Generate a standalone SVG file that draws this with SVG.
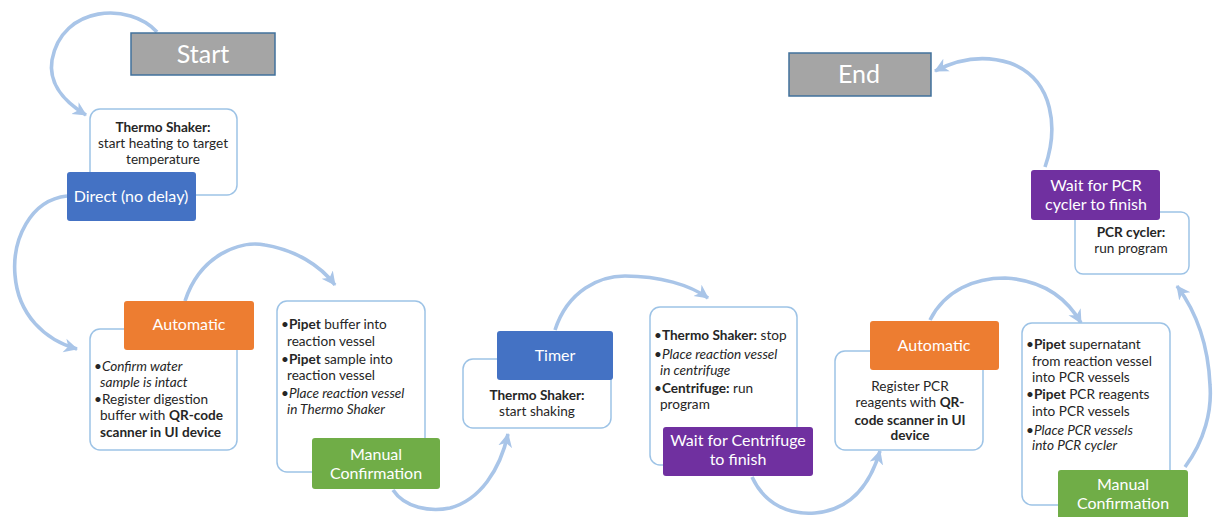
<svg xmlns="http://www.w3.org/2000/svg" width="1213" height="517" viewBox="0 0 1213 517">
<defs>
<marker id="ah" markerUnits="userSpaceOnUse" markerWidth="16" markerHeight="16" viewBox="0 0 16 16" refX="13" refY="8" orient="auto">
<path d="M0,1 L14,8 L0,15 L4,8 Z" fill="#a9c5e8"/>
</marker>
<style>
.con{fill:none;stroke:#a9c5e8;stroke-width:3.6;marker-end:url(#ah)}
.card{fill:#fff;stroke:#9dc3e6;stroke-width:1.5}
.t{font-family:Lato,"Liberation Sans",sans-serif;font-size:13.6px;fill:#262626}
.b{font-weight:bold}
.i{font-style:italic}
.lab{font-family:Lato,"Liberation Sans",sans-serif;font-size:16px;fill:#fff;text-anchor:middle}
.term{font-family:Lato,"Liberation Sans",sans-serif;font-size:25px;fill:#fff;text-anchor:middle}
.gray{fill:#a5a5a5;stroke:#41719c;stroke-width:1.5}
.blue{fill:#4472c4}
.orange{fill:#ed7d31}
.green{fill:#70ad47}
.purple{fill:#7030a0}
</style>
</defs>
<rect width="1213" height="517" fill="#fff"/>
<g id="connectors">
<path class="con" d="M157,32 C130,2 62,5 52,60 C48,85 65,102 86,115"/>
<path class="con" d="M67,196 C30,200 12,240 15,275 C18,315 45,340 77,349"/>
<path class="con" d="M185,301 C200,255 240,240 265,245 C295,250 320,265 335,285"/>
<path class="con" d="M393,490 C405,508 430,512 450,508 C480,500 500,470 508,434"/>
<path class="con" d="M555,330 C568,290 600,276 625,276 C660,276 690,285 708,298"/>
<path class="con" d="M752,477 C765,505 790,515 815,513 C850,510 870,485 880,451"/>
<path class="con" d="M930,320 C945,290 975,278 1005,278 C1040,280 1065,295 1081,323"/>
<path class="con" d="M1185,467 C1205,440 1212,410 1210,385 C1208,340 1195,310 1177,286"/>
<path class="con" d="M1045,167 C1058,130 1055,80 1010,63 C985,55 960,58 935,71"/>
</g>
<g id="start">
<rect class="gray" x="131" y="33" width="144" height="42"/>
<text class="term" x="203" y="63">Start</text>
</g>
<g id="step-heating">
<rect class="card" x="90" y="109" width="147" height="86" rx="10"/>
<text class="t" text-anchor="middle"><tspan class="b" x="163" y="132">Thermo Shaker:</tspan><tspan x="163" y="148">start heating to target</tspan><tspan x="163" y="164">temperature</tspan></text>
<rect class="blue" x="67" y="172" width="129" height="49" rx="3"/>
<text class="lab" x="131" y="202">Direct (no delay)</text>
</g>
<g id="step-register-buffer">
<rect class="card" x="90" y="329" width="147" height="121" rx="10"/>
<rect class="orange" x="124" y="301" width="130" height="49" rx="3"/>
<text class="lab" x="189" y="330">Automatic</text>
<text class="t"><tspan class="i" x="94" y="371">•Confirm water</tspan><tspan class="i" x="100" y="387">sample is intact</tspan><tspan x="94" y="404">•Register digestion</tspan><tspan x="100" y="420">buffer with <tspan class="b">QR-code</tspan></tspan><tspan class="b" x="100" y="437">scanner in UI device</tspan></text>
</g>
<g id="step-pipet">
<rect class="card" x="277" y="301" width="148" height="171" rx="10"/>
<text class="t"><tspan x="281" y="329">•<tspan class="b">Pipet</tspan> buffer into</tspan><tspan x="287" y="346">reaction vessel</tspan><tspan x="281" y="364">•<tspan class="b">Pipet</tspan> sample into</tspan><tspan x="287" y="380">reaction vessel</tspan><tspan class="i" x="281" y="398">•Place reaction vessel</tspan><tspan class="i" x="287" y="414">in Thermo Shaker</tspan></text>
<rect class="green" x="312" y="438" width="128" height="51" rx="3"/>
<text class="lab"><tspan x="376" y="460">Manual</tspan><tspan x="376" y="479">Confirmation</tspan></text>
</g>
<g id="step-shaking">
<rect class="card" x="463" y="359" width="148" height="69" rx="10"/>
<rect class="blue" x="497" y="331" width="116" height="49" rx="3"/>
<text class="lab" x="555" y="361">Timer</text>
<text class="t" text-anchor="middle"><tspan class="b" x="537" y="400">Thermo Shaker:</tspan><tspan x="537" y="416">start shaking</tspan></text>
</g>
<g id="step-centrifuge">
<rect class="card" x="650" y="307" width="147" height="158" rx="10"/>
<text class="t"><tspan x="654" y="340">•<tspan class="b">Thermo Shaker:</tspan> stop</tspan><tspan class="i" x="654" y="359">•Place reaction vessel</tspan><tspan class="i" x="660" y="375">in centrifuge</tspan><tspan x="654" y="393">•<tspan class="b">Centrifuge:</tspan> run</tspan><tspan x="660" y="409">program</tspan></text>
<rect class="purple" x="663" y="427" width="150" height="49" rx="3"/>
<text class="lab"><tspan x="738" y="446">Wait for Centrifuge</tspan><tspan x="738" y="465">to finish</tspan></text>
</g>
<g id="step-register-pcr">
<rect class="card" x="835" y="351" width="148" height="99" rx="10"/>
<rect class="orange" x="870" y="321" width="129" height="49" rx="3"/>
<text class="lab" x="934" y="351">Automatic</text>
<text class="t" text-anchor="middle"><tspan x="910" y="391">Register PCR</tspan><tspan x="910" y="407">reagents with <tspan class="b">QR-</tspan></tspan><tspan class="b" x="910" y="425">code scanner in UI</tspan><tspan class="b" x="910" y="440">device</tspan></text>
</g>
<g id="step-pcr-prep">
<rect class="card" x="1022" y="323" width="148" height="182" rx="10"/>
<text class="t"><tspan x="1026" y="349">•<tspan class="b">Pipet</tspan> supernatant</tspan><tspan x="1032" y="366">from reaction vessel</tspan><tspan x="1032" y="382">into PCR vessels</tspan><tspan x="1026" y="399">•<tspan class="b">Pipet</tspan> PCR reagents</tspan><tspan x="1032" y="416">into PCR vessels</tspan><tspan class="i" x="1026" y="435">•Place PCR vessels</tspan><tspan class="i" x="1032" y="450">into PCR cycler</tspan></text>
<rect class="green" x="1058" y="470" width="130" height="51" rx="3"/>
<text class="lab"><tspan x="1123" y="490">Manual</tspan><tspan x="1123" y="509">Confirmation</tspan></text>
</g>
<g id="step-pcr-run">
<rect class="card" x="1075" y="212" width="114" height="62" rx="8"/>
<text class="t" text-anchor="middle"><tspan class="b" x="1131" y="237">PCR cycler:</tspan><tspan x="1131" y="253">run program</tspan></text>
<rect class="purple" x="1031" y="170" width="129" height="50" rx="3"/>
<text class="lab"><tspan x="1096" y="191">Wait for PCR</tspan><tspan x="1096" y="210">cycler to finish</tspan></text>
</g>
<g id="end">
<rect class="gray" x="789" y="53" width="142" height="43"/>
<text class="term" x="859" y="83">End</text>
</g>
</svg>
